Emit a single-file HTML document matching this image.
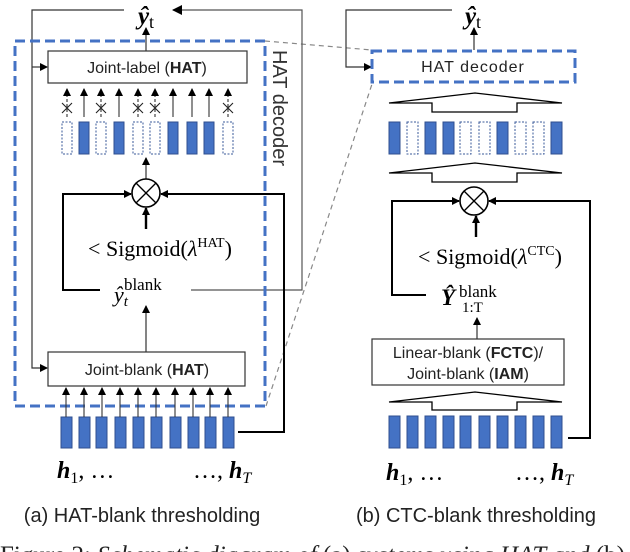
<!DOCTYPE html>
<html><head><meta charset="utf-8"><style>
html,body{margin:0;padding:0;background:#fff;}
svg{display:block;}
.s{font-family:"Liberation Sans",sans-serif;}
.r{font-family:"Liberation Serif",serif;}
</style></head><body>
<svg width="630" height="552" viewBox="0 0 630 552" xmlns="http://www.w3.org/2000/svg">
<defs>
<marker id="a" markerWidth="8" markerHeight="8" refX="7" refY="4" orient="auto" markerUnits="userSpaceOnUse"><path d="M0,0 L8,4 L0,8 z" fill="#000"/></marker>
<marker id="b" markerWidth="10" markerHeight="10" refX="9" refY="5" orient="auto" markerUnits="userSpaceOnUse"><path d="M0,0 L10,5 L0,10 z" fill="#000"/></marker>
</defs>

<line x1="265" y1="41" x2="372" y2="50" stroke="#888" stroke-width="1.2" stroke-dasharray="5,4"/>
<line x1="266" y1="406" x2="373" y2="81" stroke="#888" stroke-width="1.2" stroke-dasharray="5,4"/>

<text x="146" y="24" class="r" font-size="25" font-weight="bold" font-style="italic" text-anchor="middle">ŷ<tspan font-style="normal" font-weight="normal" font-size="18" dy="4">t</tspan></text>
<polyline points="124,10 32,10 32,368 47,368" fill="none" stroke="#333" stroke-width="1.2" marker-end="url(#a)"/>
<line x1="32" y1="67" x2="47" y2="67" stroke="#333" stroke-width="1.2" marker-end="url(#a)"/>
<polyline points="191,290 302,290 302,10 173,10" fill="none" stroke="#555" stroke-width="1.2" marker-end="url(#b)"/>

<rect x="15" y="41" width="250" height="365" fill="none" stroke="#4472C4" stroke-width="3" stroke-dasharray="10,5"/>
<text x="0" y="0" class="s" font-size="20" fill="#333" transform="translate(273,50) rotate(90)">HAT decoder</text>

<rect x="48" y="51" width="199" height="32" fill="#fff" stroke="#333" stroke-width="1.2"/>
<text x="147" y="73" class="s" font-size="16" fill="#222" text-anchor="middle">Joint-label (<tspan font-weight="bold">HAT</tspan>)</text>
<line x1="146" y1="51" x2="146" y2="28" stroke="#333" stroke-width="1.2" marker-end="url(#a)"/>

<g>
<rect x="62" y="122" width="10" height="32" fill="#fff" stroke="#3A5A9A" stroke-dasharray="2,1.5"/>
<rect x="79" y="122" width="10" height="32" fill="#4472C4" stroke="#2F4F8F"/>
<rect x="96" y="122" width="10" height="32" fill="#fff" stroke="#3A5A9A" stroke-dasharray="2,1.5"/>
<rect x="114" y="122" width="10" height="32" fill="#4472C4" stroke="#2F4F8F"/>
<rect x="133" y="122" width="10" height="32" fill="#fff" stroke="#3A5A9A" stroke-dasharray="2,1.5"/>
<rect x="150" y="122" width="10" height="32" fill="#fff" stroke="#3A5A9A" stroke-dasharray="2,1.5"/>
<rect x="168" y="122" width="10" height="32" fill="#4472C4" stroke="#2F4F8F"/>
<rect x="187" y="122" width="10" height="32" fill="#4472C4" stroke="#2F4F8F"/>
<rect x="204" y="122" width="10" height="32" fill="#4472C4" stroke="#2F4F8F"/>
<rect x="223" y="122" width="10" height="32" fill="#fff" stroke="#3A5A9A" stroke-dasharray="2,1.5"/>
</g>
<g stroke="#333" stroke-width="1.1">
<line x1="84" y1="117" x2="84" y2="89" marker-end="url(#a)"/>
<line x1="119" y1="117" x2="119" y2="89" marker-end="url(#a)"/>
<line x1="173" y1="117" x2="173" y2="89" marker-end="url(#a)"/>
<line x1="192" y1="117" x2="192" y2="89" marker-end="url(#a)"/>
<line x1="209" y1="117" x2="209" y2="89" marker-end="url(#a)"/>
</g>
<g stroke="#333" stroke-width="1.1" stroke-dasharray="3,2">
<line x1="67" y1="117" x2="67" y2="89" marker-end="url(#a)"/>
<line x1="101" y1="117" x2="101" y2="89" marker-end="url(#a)"/>
<line x1="138" y1="117" x2="138" y2="89" marker-end="url(#a)"/>
<line x1="155" y1="117" x2="155" y2="89" marker-end="url(#a)"/>
<line x1="228" y1="117" x2="228" y2="89" marker-end="url(#a)"/>
</g>
<g stroke="#222" stroke-width="1.1">
<path d="M62,103 L72,113 M72,103 L62,113"/>
<path d="M96,103 L106,113 M106,103 L96,113"/>
<path d="M133,103 L143,113 M143,103 L133,113"/>
<path d="M150,103 L160,113 M160,103 L150,113"/>
<path d="M223,103 L233,113 M233,103 L223,113"/>
</g>

<line x1="146" y1="179" x2="146" y2="158" stroke="#333" stroke-width="1.2" marker-end="url(#a)"/>
<circle cx="146" cy="193" r="14" fill="#fff" stroke="#000" stroke-width="1.6"/>
<line x1="136" y1="183" x2="156" y2="203" stroke="#000" stroke-width="1.3"/>
<line x1="156" y1="183" x2="136" y2="203" stroke="#000" stroke-width="1.3"/>
<polyline points="100,290 63,290 63,194 131,194" fill="none" stroke="#000" stroke-width="2" marker-end="url(#a)"/>
<polyline points="238,432 284,432 284,194 161,194" fill="none" stroke="#000" stroke-width="2" marker-end="url(#a)"/>
<line x1="146" y1="229" x2="146" y2="208" stroke="#000" stroke-width="2.4" marker-end="url(#a)"/>
<text x="160" y="256" class="r" font-size="22" text-anchor="middle">&lt; Sigmoid(<tspan font-style="italic">λ</tspan><tspan font-size="14" dy="-9">HAT</tspan><tspan dy="9">)</tspan></text>
<text x="114" y="302" class="r" font-size="22" font-style="italic">ŷ<tspan font-size="15" dy="4">t</tspan><tspan font-style="normal" font-size="17" dx="-4" dy="-16">blank</tspan></text>
<line x1="146" y1="352" x2="146" y2="306" stroke="#333" stroke-width="1.2" marker-end="url(#a)"/>

<rect x="48" y="352" width="197" height="34" fill="#fff" stroke="#333" stroke-width="1.2"/>
<text x="147" y="375" class="s" font-size="16" fill="#222" text-anchor="middle">Joint-blank (<tspan font-weight="bold">HAT</tspan>)</text>

<g fill="#4472C4" stroke="#2F4F8F" stroke-width="1">
<rect x="61" y="417" width="11" height="31"/><rect x="79" y="417" width="11" height="31"/><rect x="96" y="417" width="11" height="31"/><rect x="115" y="417" width="11" height="31"/><rect x="133" y="417" width="11" height="31"/><rect x="151" y="417" width="11" height="31"/><rect x="170" y="417" width="11" height="31"/><rect x="188" y="417" width="11" height="31"/><rect x="205" y="417" width="11" height="31"/><rect x="223" y="417" width="11" height="31"/>
</g>
<g stroke="#333" stroke-width="1.1">
<line x1="66" y1="417" x2="66" y2="388" marker-end="url(#a)"/><line x1="84" y1="417" x2="84" y2="388" marker-end="url(#a)"/><line x1="102" y1="417" x2="102" y2="388" marker-end="url(#a)"/><line x1="120" y1="417" x2="120" y2="388" marker-end="url(#a)"/><line x1="138" y1="417" x2="138" y2="388" marker-end="url(#a)"/><line x1="156" y1="417" x2="156" y2="388" marker-end="url(#a)"/><line x1="175" y1="417" x2="175" y2="388" marker-end="url(#a)"/><line x1="193" y1="417" x2="193" y2="388" marker-end="url(#a)"/><line x1="210" y1="417" x2="210" y2="388" marker-end="url(#a)"/><line x1="228" y1="417" x2="228" y2="388" marker-end="url(#a)"/>
</g>
<text x="57" y="478" class="r" font-size="24" font-weight="bold" font-style="italic">h<tspan font-size="16" font-weight="normal" font-style="normal" dy="5">1</tspan><tspan dy="-5" font-weight="normal" font-style="normal">, …</tspan></text>
<text x="193" y="478" class="r" font-size="24"><tspan>…, </tspan><tspan font-weight="bold" font-style="italic">h</tspan><tspan font-size="16" font-style="italic" dy="5">T</tspan></text>
<text x="142" y="522" class="s" font-size="20" fill="#222" text-anchor="middle">(a) HAT-blank thresholding</text>

<text x="473" y="24" class="r" font-size="25" font-weight="bold" font-style="italic" text-anchor="middle">ŷ<tspan font-style="normal" font-weight="normal" font-size="18" dy="4">t</tspan></text>
<polyline points="452,10 346,10 346,67 371,67" fill="none" stroke="#333" stroke-width="1.2" marker-end="url(#a)"/>
<line x1="474" y1="50" x2="474" y2="28" stroke="#333" stroke-width="1.2" marker-end="url(#a)"/>
<rect x="372" y="51" width="203" height="31" fill="#fff" stroke="#4472C4" stroke-width="3" stroke-dasharray="10,5"/>
<text x="473" y="72" class="s" font-size="16" fill="#222" text-anchor="middle" letter-spacing="1">HAT decoder</text>

<path d="M389,103 L475,93 L562,103 L517,103 L517,112 L432,112 L432,103 Z" fill="#fff" stroke="#000" stroke-width="1.3"/>
<g>
<rect x="389" y="122" width="11" height="32" fill="#4472C4" stroke="#2F4F8F"/>
<rect x="407" y="122" width="11" height="32" fill="#fff" stroke="#3A5A9A" stroke-dasharray="2,1.5"/>
<rect x="425" y="122" width="11" height="32" fill="#4472C4" stroke="#2F4F8F"/>
<rect x="443" y="122" width="11" height="32" fill="#4472C4" stroke="#2F4F8F"/>
<rect x="460" y="122" width="11" height="32" fill="#fff" stroke="#3A5A9A" stroke-dasharray="2,1.5"/>
<rect x="479" y="122" width="11" height="32" fill="#fff" stroke="#3A5A9A" stroke-dasharray="2,1.5"/>
<rect x="497" y="122" width="11" height="32" fill="#4472C4" stroke="#2F4F8F"/>
<rect x="515" y="122" width="11" height="32" fill="#fff" stroke="#3A5A9A" stroke-dasharray="2,1.5"/>
<rect x="533" y="122" width="11" height="32" fill="#fff" stroke="#3A5A9A" stroke-dasharray="2,1.5"/>
<rect x="551" y="122" width="11" height="32" fill="#4472C4" stroke="#2F4F8F"/>
</g>
<path d="M389,173 L475,163 L562,173 L517,173 L517,182 L432,182 L432,173 Z" fill="#fff" stroke="#000" stroke-width="1.3"/>

<circle cx="474" cy="201" r="14" fill="#fff" stroke="#000" stroke-width="1.6"/>
<line x1="464" y1="191" x2="484" y2="211" stroke="#000" stroke-width="1.3"/>
<line x1="484" y1="191" x2="464" y2="211" stroke="#000" stroke-width="1.3"/>
<polyline points="426,295 392,295 392,201 459,201" fill="none" stroke="#000" stroke-width="2" marker-end="url(#a)"/>
<polyline points="568,438 590,438 590,201 489,201" fill="none" stroke="#000" stroke-width="2" marker-end="url(#a)"/>
<line x1="476" y1="237" x2="476" y2="216" stroke="#000" stroke-width="2.4" marker-end="url(#a)"/>
<text x="490" y="264" class="r" font-size="22" text-anchor="middle">&lt; Sigmoid(<tspan font-style="italic">λ</tspan><tspan font-size="14" dy="-9">CTC</tspan><tspan dy="9">)</tspan></text>
<text x="441" y="305" class="r" font-size="23" font-weight="bold" font-style="italic">Ŷ</text>
<text x="459" y="297" class="r" font-size="17">blank</text>
<text x="462" y="312" class="r" font-size="15">1:T</text>
<line x1="477" y1="339" x2="477" y2="318" stroke="#333" stroke-width="1.2" marker-end="url(#a)"/>
<rect x="372" y="339" width="192" height="46" fill="#fff" stroke="#333" stroke-width="1.2"/>
<text x="468" y="358" class="s" font-size="16" fill="#222" text-anchor="middle">Linear-blank (<tspan font-weight="bold">FCTC</tspan>)/</text>
<text x="468" y="379" class="s" font-size="16" fill="#222" text-anchor="middle">Joint-blank (<tspan font-weight="bold">IAM</tspan>)</text>
<path d="M389,402 L475,392 L562,402 L517,402 L517,410 L432,410 L432,402 Z" fill="#fff" stroke="#000" stroke-width="1.3"/>
<g fill="#4472C4" stroke="#2F4F8F" stroke-width="1">
<rect x="389" y="416" width="11" height="32"/><rect x="407" y="416" width="11" height="32"/><rect x="425" y="416" width="11" height="32"/><rect x="443" y="416" width="11" height="32"/><rect x="460" y="416" width="11" height="32"/><rect x="479" y="416" width="11" height="32"/><rect x="497" y="416" width="11" height="32"/><rect x="515" y="416" width="11" height="32"/><rect x="533" y="416" width="11" height="32"/><rect x="551" y="416" width="11" height="32"/>
</g>
<text x="386" y="480" class="r" font-size="24" font-weight="bold" font-style="italic">h<tspan font-size="16" font-weight="normal" font-style="normal" dy="5">1</tspan><tspan dy="-5" font-weight="normal" font-style="normal">, …</tspan></text>
<text x="515" y="480" class="r" font-size="24"><tspan>…, </tspan><tspan font-weight="bold" font-style="italic">h</tspan><tspan font-size="16" font-style="italic" dy="5">T</tspan></text>
<text x="476" y="522" class="s" font-size="20" fill="#222" text-anchor="middle">(b) CTC-blank thresholding</text>

<text x="0" y="563" class="r" font-size="25" fill="#222">Figure 2: <tspan font-style="italic">Schematic diagram of</tspan> (a) <tspan font-style="italic">systems using HAT and</tspan> (b)</text>
</svg>
</body></html>
